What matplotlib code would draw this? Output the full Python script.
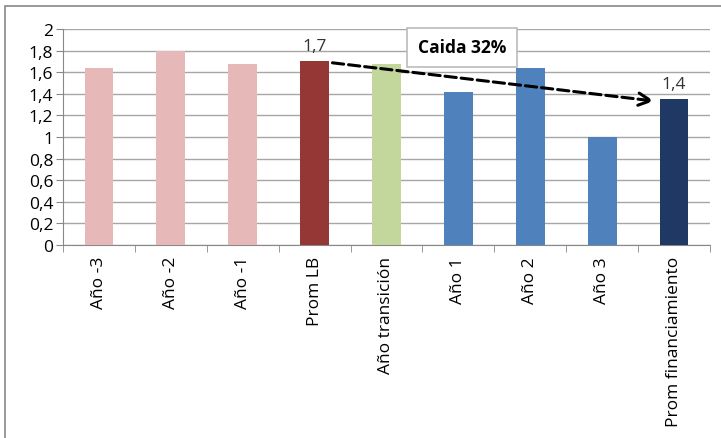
import matplotlib.pyplot as plt
import matplotlib.patches as mpatches
from matplotlib.ticker import FuncFormatter, MultipleLocator, FixedLocator
import numpy as np

categories = ["Año -3", "Año -2", "Año -1", "Prom LB", "Año transición",
              "Año 1", "Año 2", "Año 3", "Prom financiamiento"]
values = [1.64, 1.80, 1.68, 1.70, 1.68, 1.42, 1.64, 1.00, 1.35]
colors = ["#E6B9B8", "#E6B9B8", "#E6B9B8", "#953735", "#C3D69B",
          "#4F81BD", "#4F81BD", "#4F81BD", "#1F3864"]
labels = {3: "1,7", 8: "1,4"}
note = "Caida 32%"

plt.rcParams['font.family'] = ['Open Sans', 'DejaVu Sans']

fig = plt.figure(figsize=(7.21, 4.39), dpi=100)
ax = fig.add_axes([63 / 721, 1 - 246 / 439, 647 / 721, 216 / 439])

x = np.arange(len(categories))
ax.bar(x, values, width=0.4, color=colors, zorder=3)

ax.set_xlim(-0.5, len(categories) - 0.5)
ax.set_ylim(0, 2)
ax.yaxis.set_major_locator(MultipleLocator(0.2))
ax.yaxis.set_major_formatter(FuncFormatter(lambda v, p: f"{v:.1f}".replace(".", ",").replace(",0", "")))
ax.grid(axis='y', color='#A6A6A6', linewidth=1, zorder=0)
ax.set_axisbelow(True)

ax.set_xticks(x)
ax.set_xticklabels(categories, rotation=90, fontsize=12.5)
ax.tick_params(axis='x', which='major', length=0, pad=8)
ax.xaxis.set_minor_locator(FixedLocator(np.arange(-0.5, len(categories), 1)))
ax.tick_params(axis='x', which='minor', length=5, color='#888888')
ax.tick_params(axis='y', length=5, color='#888888', labelsize=12.5, pad=2)

for s in ['top', 'right']:
    ax.spines[s].set_visible(False)
for s in ['left', 'bottom']:
    ax.spines[s].set_color('#888888')

for i, t in labels.items():
    ax.text(i, values[i] + 0.07, t, ha='center', va='bottom', fontsize=12.5, color='#333333')

ax.annotate("", xy=(7.76, 1.33), xytext=(3.21, 1.69),
            arrowprops=dict(arrowstyle='->', linestyle='--', color='black', lw=2.2,
                            mutation_scale=22), zorder=5)

ax.text(5.05, 1.83, note, ha='center', va='center', fontsize=12.5, fontweight='bold',
        bbox=dict(boxstyle='square,pad=0.6', facecolor='white', edgecolor='#BBBBBB', lw=1.2),
        zorder=6)

fig.patches.append(mpatches.Rectangle((5 / 721, -0.1), 1.1, (432 / 439) + 0.1,
                                      transform=fig.transFigure, fill=False,
                                      edgecolor='#888888', lw=1.2))

fig.savefig("out.png", dpi=100)
